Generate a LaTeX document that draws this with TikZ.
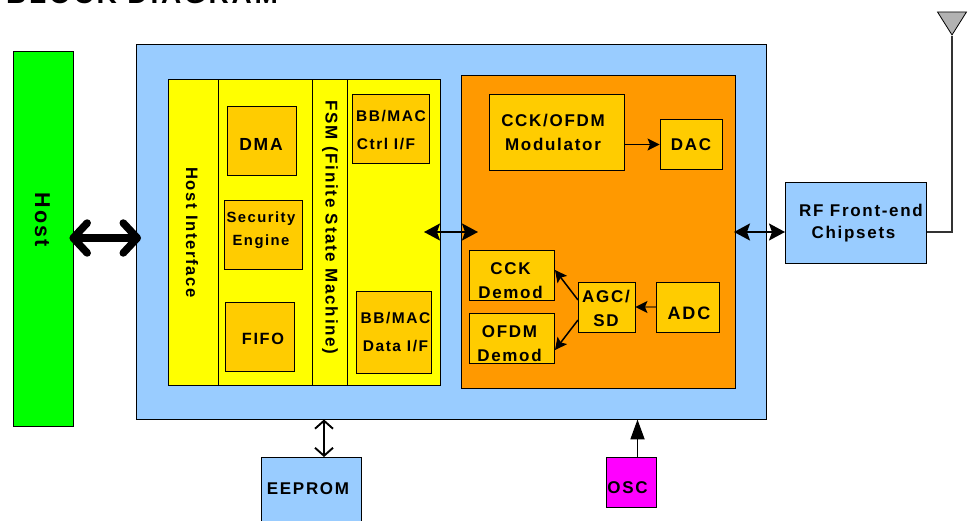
\documentclass[tikz,border=0pt]{standalone}
\usepackage{fontspec}
\setmainfont[LetterSpace=10]{Liberation Sans}
\usepackage{tikz}
\usetikzlibrary{arrows.meta,shapes.geometric}

\definecolor{panelblue}{RGB}{153,204,255}
\definecolor{amber}{RGB}{255,204,0}
\definecolor{deeporange}{RGB}{255,153,0}
\definecolor{stripyellow}{RGB}{255,255,0}
\definecolor{hostgreen}{RGB}{0,255,0}
\definecolor{oscmagenta}{RGB}{255,0,255}

\tikzset{
	box/.style={draw, line width=0.9pt, inner sep=0pt},
	tag/.style={inner sep=0pt, align=center, font=\bfseries\fontsize{17}{24}\selectfont},
	smalltag/.style={tag, font=\bfseries\fontsize{15.5}{27.5}\selectfont},
	solidarrow/.style={-{Stealth[length=12pt,width=12pt,inset=2.5pt,black]}, line width=1pt},
	bothways/.style={{Stealth[length=16pt,width=17pt,inset=3pt]}-{Stealth[length=16pt,width=17pt,inset=3pt]}, line width=1.8pt},
}

\begin{document}
\begin{tikzpicture}[x=1pt, y=-1pt]

\useasboundingbox (0,0) rectangle (974,521);

% Title
\node [anchor=base west, inner sep=0pt, font=\bfseries\fontsize{28}{30}\selectfont] (title) at (6, 4) {BLOCK DIAGRAM};

% Host
\node [box, fill=hostgreen, minimum width=60pt, minimum height=375pt] (host) at (43, 238.5) {};
\node [tag, rotate=-90, font=\bfseries\fontsize{21.5}{24}\selectfont] (host_label) at (42.5, 220) {Host};

% Main chip
\node [box, fill=panelblue, minimum width=629.5pt, minimum height=374.5pt] (chip) at (451.25, 231.75) {};

% Yellow strips
\node [box, fill=stripyellow, minimum width=50pt, minimum height=306pt] (host_interface) at (193, 232) {};
\node [box, fill=stripyellow, minimum width=94pt, minimum height=306pt] (host_blocks) at (265, 232) {};
\node [box, fill=stripyellow, minimum width=35pt, minimum height=306pt] (fsm) at (329.5, 232) {};
\node [box, fill=stripyellow, minimum width=93.5pt, minimum height=306pt] (mac_if) at (393.75, 232) {};
\node [tag, font=\bfseries\fontsize{16.6}{24}\selectfont, rotate=-90] (host_interface_label) at (192, 232.5) {Host Interface};
\node [tag, rotate=-90] (fsm_label) at (330, 227.5) {FSM (Finite State Machine)};

% DMA
\node [box, fill=amber, minimum width=69pt, minimum height=69pt] (dma) at (261.5, 141) {};
\node [tag, font=\bfseries\fontsize{17.5}{24}\selectfont] (dma_label) at (261, 144) {DMA};

% Security engine
\node [box, fill=amber, minimum width=78pt, minimum height=69pt] (security) at (263, 235) {};
\node [tag, font=\bfseries\fontsize{14.8}{22.5}\selectfont] (security_label) at (261, 230) {Security\\Engine};

% FIFO
\node [box, fill=amber, minimum width=69pt, minimum height=69pt] (fifo) at (260, 337) {};
\node [tag, font=\bfseries\fontsize{16.3}{24}\selectfont] (fifo_label) at (263, 339) {FIFO};

% BB/MAC control
\node [box, fill=amber, minimum width=77pt, minimum height=68.5pt] (mac_ctrl) at (391, 128.75) {};
\node [smalltag] (mac_ctrl_label) at (391, 130) {BB/MAC\\\hspace*{-10pt}Ctrl I/F};

% BB/MAC data
\node [box, fill=amber, minimum width=75pt, minimum height=81.5pt] (mac_data) at (393.5, 332.5) {};
\node [smalltag] (mac_data_label) at (395.5, 332) {BB/MAC\\Data I/F};

% Baseband
\node [box, fill=deeporange, minimum width=273.5pt, minimum height=312.5pt] (baseband) at (598.25, 231.75) {};

% Modulator
\node [box, fill=amber, minimum width=135pt, minimum height=76pt] (modulator) at (557, 132) {};
\node [tag] (modulator_label) at (553, 132) {CCK/OFDM\\Modulator};

% DAC
\node [box, fill=amber, minimum width=62.5pt, minimum height=50pt] (dac) at (691.25, 144.5) {};
\node [tag] (dac_label) at (691, 145) {DAC};

% CCK demodulator
\node [box, fill=amber, minimum width=85pt, minimum height=50pt] (cck) at (512, 275.5) {};
\node [tag] (cck_label) at (510.5, 281) {CCK\\Demod};

% OFDM demodulator
\node [box, fill=amber, minimum width=85pt, minimum height=50.5pt] (ofdm) at (512, 338.25) {};
\node [tag] (ofdm_label) at (509.5, 344) {OFDM\\Demod};

% AGC
\node [box, fill=amber, minimum width=57pt, minimum height=50pt] (agc) at (606.5, 307) {};
\node [tag] (agc_label) at (606, 308) {AGC/\\SD};

% ADC
\node [box, fill=amber, minimum width=62.5pt, minimum height=50pt] (adc) at (687.75, 307) {};
\node [tag, font=\bfseries\fontsize{18}{24}\selectfont] (adc_label) at (689, 313) {ADC};

% RF front end
\node [box, fill=panelblue, minimum width=141.5pt, minimum height=81pt] (rf) at (855.75, 223) {};
\node [tag, font=\bfseries\fontsize{17}{22}\selectfont] (rf_label) at (853.5, 223) {\hspace*{15pt}RF Front-end\\Chipsets};

% EEPROM
\node [box, fill=panelblue, minimum width=100pt, minimum height=73pt] (eeprom) at (311.5, 494) {};
\node [tag] (eeprom_label) at (308, 489) {EEPROM};

% Oscillator
\node [box, fill=oscmagenta, minimum width=50.5pt, minimum height=50pt] (osc) at (631.25, 482.5) {};
\node [tag] (osc_label) at (627.5, 488) {OSC};

% Antenna
\node [draw, line width=0.8pt, fill=black!30, inner sep=0pt, anchor=apex,
	isosceles triangle, isosceles triangle stretches, shape border rotate=-90,
	minimum width=29pt, minimum height=23pt
] (antenna) at (952, 36) {};

% Free ends of the arrows
\coordinate (host_tip) at (141, 238);
\coordinate (mac_tip) at (424, 232);
\coordinate (baseband_tip) at (478, 232);
\coordinate (baseband_port) at (734, 232);
\coordinate (rf_port) at (785, 232);
\coordinate (rf_out) at (926.5, 232);
\coordinate (agc_up) at (578, 300);
\coordinate (agc_down) at (578, 320);
\coordinate (cck_tip) at (555, 270);
\coordinate (ofdm_tip) at (555, 350);

% Arrows
\draw [{Straight Barb[length=14pt,width=30pt,round]}-{Straight Barb[length=14pt,width=30pt,round]}, line width=7.5pt]
	([xshift=-4pt]host.east |- host_tip) -- (host_tip);
\draw [bothways] (mac_tip) -- (baseband_tip);
\draw [bothways] (baseband_port) -- (rf_port);
\draw [solidarrow] (modulator.east |- dac.west) -- (dac.west);
\draw [solidarrow, line width=1.2pt, draw=black!50!deeporange] (adc.west) -- (agc.east);
\draw [solidarrow, line width=1.5pt] (agc_up) -- (cck_tip);
\draw [solidarrow, line width=1.5pt] (agc_down) -- (ofdm_tip);
\draw [{Straight Barb[length=8pt,width=18pt]}-{Straight Barb[length=8pt,width=18pt]}, line width=1.9pt]
	([xshift=12.5pt]eeprom.north) -- ([xshift=12.5pt]eeprom.north |- chip.south);
\draw [-{Triangle[length=20pt,width=14pt]}, line width=1.8pt]
	([xshift=6.25pt]osc.north) -- ([xshift=6.25pt]osc.north |- chip.south);
\draw [line width=1.6pt, draw=black!80] (rf_out) -| (antenna.apex);

\end{tikzpicture}
\end{document}
